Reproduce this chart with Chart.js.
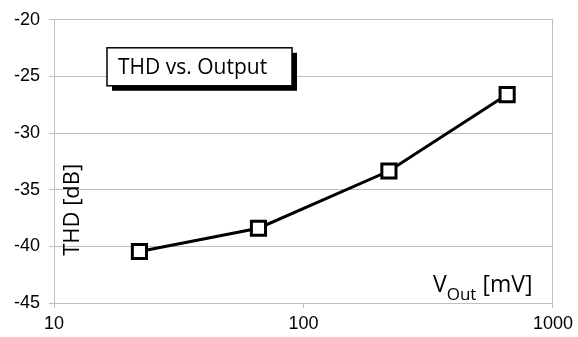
<!DOCTYPE html>
<html>
<head>
<meta charset="utf-8">
<script src="https://cdn.jsdelivr.net/npm/chart.js@4/dist/chart.umd.min.js"></script>
<style>
  html, body { margin: 0; padding: 0; background: #fff; }
  #wrap { width: 578px; height: 337px; }
</style>
</head>
<body>
<div id="wrap"><canvas id="thdChart" width="578" height="337"></canvas></div>
<script>
// data
const vOut = [22, 66, 220, 655];          // mV
const thd  = [-40.45, -38.4, -33.35, -26.6]; // dB
const xTicks = [10, 100, 1000];
const yMin = -45, yMax = -20, yStep = 5;

const GRID = '#bfbfbf';
const LABEL_FONT = "'Open Sans', 'Noto Sans', sans-serif";

// title box, y title and x title (text annotations)
const annotations = {
  id: 'annotations',
  afterDraw(chart) {
    const { ctx, chartArea: a } = chart;
    ctx.save();

    // title box with drop shadow
    const bx = a.left + 53, by = a.top + 28, bw = 185, bh = 38;
    ctx.fillStyle = '#000';
    ctx.fillRect(bx + 5, by + 5, bw, bh);
    ctx.fillStyle = '#fff';
    ctx.fillRect(bx, by, bw, bh);
    ctx.strokeStyle = '#000';
    ctx.lineWidth = 1.5;
    ctx.strokeRect(bx, by, bw, bh);
    ctx.fillStyle = '#000';
    ctx.font = '21px ' + LABEL_FONT;
    ctx.textBaseline = 'middle';
    ctx.textAlign = 'left';
    ctx.fillText('THD vs. Output', bx + 11, by + bh / 2 + 1);

    // y title, inside plot area
    ctx.save();
    ctx.translate(a.left + 19, a.top + 190);
    ctx.rotate(-Math.PI / 2);
    ctx.textAlign = 'center';
    ctx.textBaseline = 'middle';
    ctx.font = '22px ' + LABEL_FONT;
    ctx.fillText('THD [dB]', 0, 0);
    ctx.restore();

    // x title with subscript
    ctx.textAlign = 'left';
    ctx.textBaseline = 'alphabetic';
    let x = a.left + 379;
    const base = a.top + 272;
    ctx.font = '23px ' + LABEL_FONT;
    ctx.fillText('V', x, base);
    x += ctx.measureText('V').width;
    ctx.font = '17px ' + LABEL_FONT;
    ctx.fillText('Out', x, base + 8);
    x += ctx.measureText('Out').width;
    ctx.font = '23px ' + LABEL_FONT;
    ctx.fillText(' [mV]', x, base);

    ctx.restore();
  }
};

Chart.defaults.font.family = "'Liberation Sans', Arial, sans-serif";
Chart.defaults.font.size = 18;
Chart.defaults.color = '#000';

new Chart(document.getElementById('thdChart'), {
  type: 'line',
  data: {
    datasets: [{
      data: vOut.map((v, i) => ({ x: v, y: thd[i] })),
      borderColor: '#000',
      borderWidth: 3,
      pointStyle: 'rect',
      pointRadius: 10,
      pointBorderWidth: 3,
      pointBackgroundColor: '#fff',
      pointBorderColor: '#000',
      tension: 0,
    }],
  },
  options: {
    responsive: false,
    animation: false,
    events: [],
    layout: { padding: { top: 16, right: 25, left: 0, bottom: 0 } },
    plugins: { legend: { display: false }, tooltip: { enabled: false } },
    scales: {
      x: {
        type: 'logarithmic',
        min: 10,
        max: 1000,
        afterBuildTicks: (scale) => { scale.ticks = xTicks.map(v => ({ value: v })); },
        afterFit: (scale) => { scale.height = 34; },
        ticks: { padding: 5, maxRotation: 0, callback: (v) => String(v) },
        grid: {
          color: (c) => (c.tick && c.tick.value === 1000 ? GRID : 'rgba(0,0,0,0)'),
          tickColor: GRID,
          tickLength: 5,
          lineWidth: 1,
        },
        border: { color: GRID, width: 1 },
      },
      y: {
        min: yMin,
        max: yMax,
        afterFit: (scale) => { scale.width = 54; },
        ticks: { stepSize: yStep, padding: 9 },
        grid: { color: GRID, tickColor: GRID, tickLength: 5, lineWidth: 1 },
        border: { color: GRID, width: 1 },
      },
    },
  },
  plugins: [annotations],
});
</script>
</body>
</html>
